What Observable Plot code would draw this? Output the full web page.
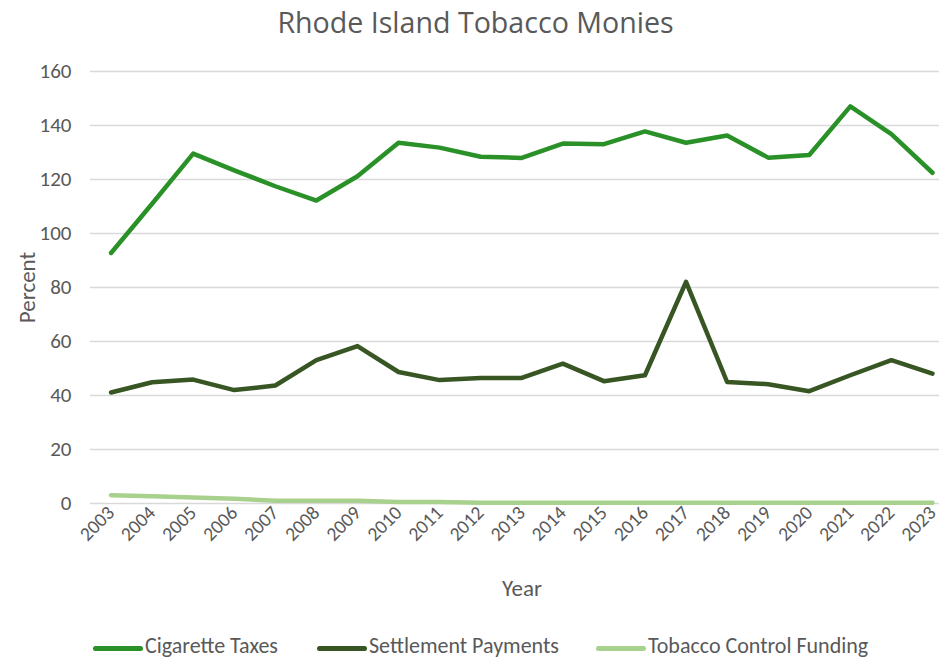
<!DOCTYPE html>
<html>
<head>
<meta charset="utf-8">
<script src="https://cdn.jsdelivr.net/npm/d3@7"></script>
<script src="https://cdn.jsdelivr.net/npm/@observablehq/plot@0.6"></script>
<style>
  html, body { margin: 0; padding: 0; background: #fff; }
  body { width: 939px; height: 661px; position: relative; overflow: hidden;
         font-family: Carlito, "Liberation Sans Narrow", Roboto, sans-serif; color: #595959; }
  #title { position: absolute; left: 0; top: 0px; width: 951px; text-align: center; font-size: 28.6px; line-height: 44px; color: #595959; font-family: "Open Sans", "Noto Sans", sans-serif; font-weight: 400; }
  #chart { position: absolute; left: 0; top: 45px; }
  #legend { position: absolute; top: 634px; left: 0; width: 939px; height: 26px; }
  .item { position: absolute; display: flex; align-items: center; font-size: 22px; line-height: 24px; white-space: nowrap; }
  .sw { display: inline-block; width: 50px; height: 5px; border-radius: 3px; margin-right: 2px; position: relative; top: 2px; }
</style>
</head>
<body>
<div id="title">Rhode Island Tobacco Monies</div>
<div id="chart"></div>
<div id="legend"></div>
<script>
const years = [2003,2004,2005,2006,2007,2008,2009,2010,2011,2012,2013,2014,2015,2016,2017,2018,2019,2020,2021,2022,2023];
const cigaretteTaxes = [92.8,111,129.6,123.4,117.5,112.2,121.2,133.6,131.8,128.4,128,133.3,133.1,137.8,133.6,136.3,128.1,129.1,147.1,136.8,122.5];
const settlementPayments = [41.1,44.9,45.9,42,43.7,53.1,58.3,48.7,45.7,46.5,46.5,51.8,45.3,47.5,82.1,45,44.2,41.6,47.5,53.1,48.1];
const tobaccoControl = [3.1,2.7,2.2,1.8,1.0,1.0,1.0,0.6,0.6,0.3,0.3,0.3,0.3,0.3,0.3,0.3,0.3,0.3,0.3,0.3,0.3];
const seriesNames = ["Cigarette Taxes","Settlement Payments","Tobacco Control Funding"];
const seriesColors = ["#2a9128","#375623","#a9d18e"];
const yTicks = [0,20,40,60,80,100,120,140,160];

const seriesValues = [cigaretteTaxes, settlementPayments, tobaccoControl];
const data = [];
seriesNames.forEach((name, i) => years.forEach((yr, j) => data.push({series: name, year: yr, value: seriesValues[i][j]})));

const font = 'Carlito, "Liberation Sans Narrow", Roboto, sans-serif';

const plot = Plot.plot({
  width: 939,
  height: 565,
  marginLeft: 90,
  marginRight: 0,
  marginTop: 26,
  marginBottom: 107,
  style: {fontFamily: font, color: "#595959", background: "transparent"},
  x: {type: "linear", domain: [2002.5, 2023.5], range: [90, 952.5]},
  y: {domain: [0, 160], ticks: yTicks},
  color: {domain: seriesNames, range: seriesColors},
  marks: [
    Plot.gridY(yTicks, {stroke: "#d9d9d9", strokeOpacity: 1, strokeWidth: 1.5}),
    Plot.axisY(yTicks, {tickSize: 0, tickPadding: 19, fontSize: 21, fill: "#595959",
      label: "Percent", labelAnchor: "center", labelArrow: "none", labelOffset: 72}),
    Plot.axisX(years, {tickSize: 0, tickPadding: 6, tickRotate: -45, fontSize: 19.5, fill: "#595959",
      tickFormat: d => String(d),
      label: "Year", labelAnchor: "center", labelArrow: "none", labelOffset: 92}),
    Plot.line(data, {x: "year", y: "value", z: "series", stroke: "series",
      strokeWidth: 4.5, strokeLinejoin: "round", strokeLinecap: "round"})
  ]
});
document.getElementById("chart").appendChild(plot);

// axis titles size and placement
plot.querySelectorAll("g[aria-label='y-axis label'] text, g[aria-label='x-axis label'] text").forEach(t => { t.style.fontSize = "23px"; });
plot.querySelectorAll("g[aria-label='x-axis label'] text").forEach(t => { t.setAttribute("dx", "7"); });

const legend = document.getElementById("legend");
const lefts = [93, 317, 596];
seriesNames.forEach((name, i) => {
  const it = document.createElement("div");
  it.className = "item";
  it.style.left = lefts[i] + "px";
  const sw = document.createElement("span");
  sw.className = "sw";
  sw.style.background = seriesColors[i];
  it.appendChild(sw);
  it.appendChild(document.createTextNode(name));
  legend.appendChild(it);
});
</script>
</body>
</html>
